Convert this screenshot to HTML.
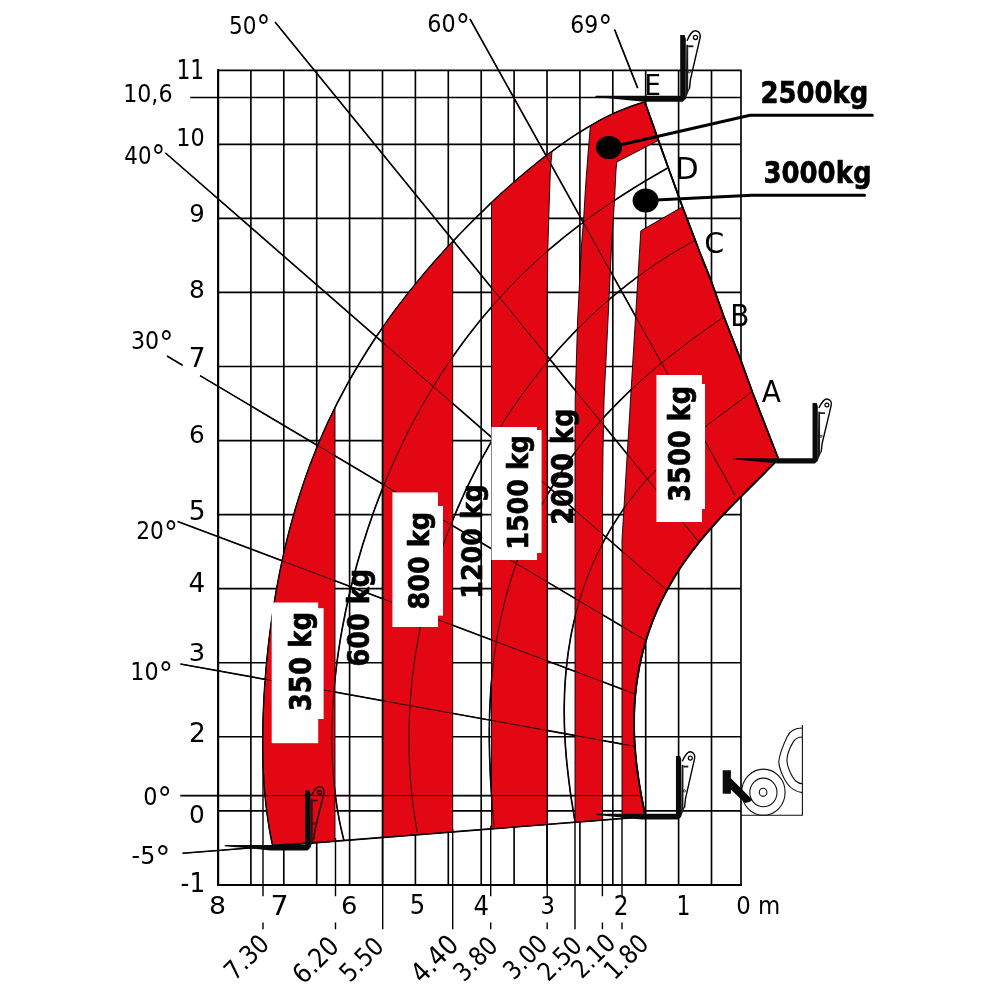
<!DOCTYPE html>
<html lang="en"><head><meta charset="utf-8"><title>Load chart</title>
<style>html,body{margin:0;padding:0;background:#fff}svg{display:block}</style></head>
<body>
<svg width="1000" height="1000" viewBox="0 0 1000 1000">
<rect width="1000" height="1000" fill="#fff"/>
<path d="M218.0,70.3 V884.8 M250.9,70.3 V884.8 M283.8,70.3 V884.8 M316.7,70.3 V884.8 M349.6,70.3 V884.8 M382.5,70.3 V884.8 M415.4,70.3 V884.8 M448.3,70.3 V884.8 M481.2,70.3 V884.8 M514.1,70.3 V884.8 M547.0,70.3 V884.8 M579.9,70.3 V884.8 M612.8,70.3 V884.8 M645.7,70.3 V884.8 M678.6,70.3 V884.8 M711.5,70.3 V884.8 M741.0,70.3 V884.8 M218.0,70.3 H741.0 M218.0,144.3 H741.0 M218.0,218.4 H741.0 M218.0,292.4 H741.0 M218.0,366.5 H741.0 M218.0,440.6 H741.0 M218.0,514.6 H741.0 M218.0,588.6 H741.0 M218.0,662.7 H741.0 M218.0,736.7 H741.0 M218.0,810.8 H741.0 M218.0,884.8 H741.0 M191,97.5 H741" stroke="#000" stroke-width="1.65" fill="none" stroke-linecap="square"/>
<path d="M218.2,70.3 V884.9 H741" stroke="#000" stroke-width="2" fill="none" stroke-linecap="square" stroke-linejoin="miter"/>
<path d="M263.0,725.0 V896.3 M263.0,922.5 V929.3 M335.5,838.0 V896.3 M335.5,922.5 V929.3 M382.7,834.3 V929.3 M452.7,828.8 V929.3 M490.7,825.8 V896.3 M490.7,922.5 V929.3 M547.2,821.4 V896.3 M547.2,922.5 V929.3 M575.0,819.2 V929.3 M602.4,817.0 V896.3 M602.4,922.5 V929.3 M622.0,815.5 V896.3 M622.0,922.5 V929.3" stroke="#000" stroke-width="1.4" fill="none"/>
<path d="M644.8,102.1 L638.0,104.1 L631.2,106.4 L624.6,108.9 L618.0,111.6 L611.5,114.6 L605.0,117.7 L598.7,121.1 L592.4,124.6 L586.2,128.2 L580.0,132.0 L573.9,135.9 L567.9,139.9 L562.0,144.1 L556.1,148.3 L550.3,152.6 L544.5,157.0 L538.8,161.5 L533.1,166.1 L527.5,170.7 L521.9,175.4 L516.3,180.2 L510.9,185.0 L505.4,189.8 L500.0,194.7 L494.7,199.7 L489.3,204.7 L484.1,209.8 L478.8,214.9 L473.6,220.0 L468.5,225.2 L463.3,230.5 L458.2,235.7 L453.2,241.1 L448.2,246.4 L443.2,251.9 L438.3,257.3 L433.4,262.9 L428.6,268.4 L423.8,274.0 L419.1,279.7 L414.4,285.4 L409.7,291.2 L405.2,297.0 L400.6,302.9 L396.1,308.8 L391.7,314.8 L387.4,320.8 L383.0,326.9 L378.8,333.0 L374.6,339.2 L370.5,345.5 L366.5,351.8 L362.5,358.2 L358.6,364.6 L354.8,371.0 L351.0,377.6 L347.3,384.2 L343.7,390.8 L340.2,397.5 L336.7,404.2 L333.4,411.0 L330.1,417.8 L326.9,424.7 L323.8,431.6 L320.7,438.6 L317.8,445.6 L314.9,452.6 L312.1,459.7 L309.4,466.9 L306.8,474.0 L304.3,481.2 L301.9,488.5 L299.5,495.8 L297.2,503.1 L295.0,510.4 L292.9,517.7 L290.9,525.1 L288.9,532.5 L287.0,540.0 L285.2,547.4 L283.5,554.9 L281.9,562.4 L280.3,569.9 L278.8,577.4 L277.4,585.0 L276.0,592.5 L274.7,600.1 L273.5,607.7 L272.4,615.3 L271.3,622.9 L270.3,630.5 L269.3,638.1 L268.4,645.7 L267.6,653.4 L266.8,661.0 L266.1,668.7 L265.5,676.3 L264.9,684.0 L264.4,691.7 L264.0,699.4 L263.6,707.1 L263.3,714.8 L263.1,722.4 L262.9,730.1 L262.8,737.9 L262.8,745.6 L262.9,753.3 L263.1,761.0 L263.4,768.7 L263.7,776.4 L264.2,784.1 L264.8,791.8 L265.5,799.4 L266.3,807.1 L267.3,814.7 L268.4,822.3 L269.6,829.9 L271.0,837.5 L272.6,845.0 M667.2,168.2 L661.6,171.5 L656.0,174.7 L650.4,178.0 L644.8,181.3 L639.3,184.6 L633.8,188.0 L628.3,191.5 L622.8,195.0 L617.4,198.5 L612.0,202.1 L606.6,205.7 L601.2,209.4 L595.9,213.1 L590.6,216.9 L585.4,220.7 L580.1,224.6 L575.0,228.6 L569.8,232.6 L564.7,236.7 L559.6,240.8 L554.6,245.0 L549.6,249.2 L544.7,253.5 L539.8,257.9 L535.0,262.3 L530.2,266.8 L525.4,271.3 L520.7,275.9 L516.0,280.6 L511.4,285.3 L506.9,290.0 L502.4,294.9 L497.9,299.8 L493.5,304.7 L489.2,309.7 L484.9,314.7 L480.7,319.8 L476.5,325.0 L472.4,330.2 L468.3,335.5 L464.3,340.8 L460.4,346.1 L456.5,351.5 L452.6,357.0 L448.9,362.5 L445.2,368.0 L441.5,373.6 L437.9,379.2 L434.4,384.9 L430.9,390.6 L427.5,396.3 L424.1,402.1 L420.8,408.0 L417.6,413.8 L414.4,419.7 L411.2,425.7 L408.2,431.6 L405.2,437.7 L402.2,443.7 L399.3,449.8 L396.5,455.9 L393.7,462.0 L391.0,468.2 L388.4,474.3 L385.8,480.6 L383.2,486.8 L380.7,493.1 L378.3,499.4 L375.9,505.7 L373.6,512.0 L371.4,518.4 L369.2,524.8 L367.0,531.2 L365.0,537.7 L362.9,544.1 L361.0,550.6 L359.1,557.1 L357.2,563.6 L355.4,570.2 L353.7,576.7 L352.0,583.3 L350.4,589.9 L348.9,596.5 L347.4,603.1 L345.9,609.8 L344.6,616.5 L343.3,623.1 L342.0,629.8 L340.8,636.5 L339.7,643.3 L338.7,650.0 L337.7,656.8 L336.8,663.5 L336.0,670.3 L335.2,677.1 L334.5,683.9 L333.9,690.7 L333.4,697.5 L332.9,704.3 L332.5,711.2 L332.2,718.0 L332.0,724.9 L331.9,731.7 L331.9,738.5 L331.9,745.4 L332.1,752.2 L332.3,759.1 L332.7,765.9 L333.1,772.7 L333.7,779.5 L334.3,786.4 L335.1,793.1 L336.0,799.9 L336.9,806.7 L338.1,813.4 L339.3,820.1 L340.7,826.8 L342.2,833.4 L343.8,840.0 M695.1,240.3 L690.2,243.0 L685.3,245.8 L680.4,248.6 L675.5,251.5 L670.7,254.4 L665.8,257.4 L661.1,260.5 L656.3,263.6 L651.6,266.8 L647.0,270.1 L642.3,273.4 L637.7,276.7 L633.2,280.2 L628.6,283.6 L624.2,287.2 L619.7,290.7 L615.3,294.4 L610.9,298.0 L606.6,301.8 L602.3,305.6 L598.0,309.4 L593.8,313.3 L589.6,317.2 L585.5,321.2 L581.4,325.2 L577.3,329.3 L573.3,333.4 L569.3,337.6 L565.4,341.8 L561.5,346.0 L557.6,350.3 L553.8,354.7 L550.0,359.0 L546.3,363.5 L542.6,367.9 L539.0,372.4 L535.4,377.0 L531.8,381.6 L528.3,386.2 L524.9,390.8 L521.4,395.5 L518.1,400.3 L514.7,405.0 L511.4,409.8 L508.2,414.7 L505.0,419.5 L501.9,424.5 L498.8,429.4 L495.7,434.4 L492.7,439.4 L489.8,444.4 L486.9,449.5 L484.0,454.6 L481.2,459.7 L478.4,464.9 L475.7,470.1 L473.0,475.3 L470.4,480.6 L467.9,485.8 L465.3,491.1 L462.9,496.5 L460.5,501.8 L458.1,507.2 L455.8,512.6 L453.5,518.1 L451.3,523.5 L449.1,529.0 L447.0,534.5 L445.0,540.1 L443.0,545.6 L441.0,551.2 L439.1,556.8 L437.3,562.4 L435.5,568.1 L433.8,573.7 L432.1,579.4 L430.5,585.1 L428.9,590.8 L427.4,596.6 L425.9,602.3 L424.6,608.1 L423.2,613.9 L421.9,619.7 L420.7,625.5 L419.5,631.3 L418.4,637.1 L417.4,643.0 L416.4,648.9 L415.5,654.7 L414.6,660.6 L413.8,666.5 L413.0,672.5 L412.3,678.4 L411.7,684.3 L411.2,690.2 L410.7,696.2 L410.2,702.1 L409.9,708.1 L409.5,714.0 L409.3,720.0 L409.1,725.9 L409.0,731.9 L408.9,737.9 L409.0,743.8 L409.0,749.8 L409.2,755.8 L409.4,761.7 L409.7,767.7 L410.0,773.6 L410.4,779.6 L410.9,785.5 L411.5,791.4 L412.1,797.3 L412.8,803.3 L413.6,809.2 L414.4,815.0 L415.3,820.9 L416.3,826.8 L417.3,832.6 M723.7,316.9 L719.8,319.6 L715.8,322.4 L711.9,325.2 L708.0,328.0 L704.1,330.7 L700.3,333.5 L696.4,336.4 L692.6,339.2 L688.7,342.0 L684.9,344.9 L681.1,347.8 L677.3,350.7 L673.6,353.6 L669.8,356.5 L666.1,359.5 L662.4,362.5 L658.7,365.5 L655.0,368.6 L651.4,371.7 L647.8,374.8 L644.1,377.9 L640.6,381.1 L637.0,384.3 L633.5,387.6 L629.9,390.9 L626.5,394.2 L623.0,397.6 L619.6,400.9 L616.2,404.4 L612.8,407.9 L609.4,411.4 L606.1,414.9 L602.8,418.5 L599.6,422.1 L596.4,425.8 L593.2,429.5 L590.0,433.3 L586.9,437.1 L583.8,440.9 L580.8,444.8 L577.8,448.7 L574.9,452.6 L571.9,456.6 L569.1,460.6 L566.2,464.7 L563.5,468.8 L560.7,473.0 L558.0,477.2 L555.4,481.4 L552.8,485.7 L550.2,490.0 L547.7,494.3 L545.2,498.7 L542.8,503.1 L540.5,507.5 L538.2,512.0 L535.9,516.5 L533.7,521.1 L531.6,525.7 L529.5,530.3 L527.4,534.9 L525.4,539.6 L523.5,544.3 L521.6,549.0 L519.8,553.8 L518.0,558.5 L516.3,563.3 L514.6,568.2 L513.0,573.0 L511.4,577.9 L509.9,582.8 L508.5,587.7 L507.1,592.6 L505.8,597.6 L504.5,602.5 L503.3,607.5 L502.1,612.5 L501.0,617.5 L499.9,622.6 L498.9,627.6 L498.0,632.7 L497.1,637.7 L496.2,642.8 L495.5,647.9 L494.7,653.0 L494.0,658.1 L493.4,663.2 L492.8,668.3 L492.3,673.4 L491.8,678.5 L491.3,683.6 L490.9,688.8 L490.6,693.9 L490.3,699.0 L490.0,704.2 L489.8,709.3 L489.6,714.4 L489.5,719.6 L489.4,724.7 L489.3,729.9 L489.3,735.0 L489.3,740.1 L489.4,745.3 L489.5,750.4 L489.6,755.5 L489.8,760.7 L490.0,765.8 L490.2,770.9 L490.4,776.1 L490.7,781.2 L491.0,786.3 L491.3,791.5 L491.7,796.6 L492.1,801.8 L492.5,806.9 L492.9,812.1 L493.3,817.2 L493.8,822.4 L494.2,827.6 M752.2,391.7 L749.0,394.1 L745.8,396.5 L742.6,398.9 L739.4,401.2 L736.2,403.6 L733.0,405.9 L729.8,408.3 L726.7,410.6 L723.5,412.9 L720.4,415.2 L717.3,417.6 L714.2,419.9 L711.1,422.3 L708.0,424.6 L704.9,427.0 L701.8,429.4 L698.7,431.8 L695.7,434.2 L692.7,436.7 L689.6,439.1 L686.6,441.6 L683.6,444.2 L680.7,446.7 L677.7,449.3 L674.8,451.9 L671.8,454.6 L668.9,457.2 L666.1,460.0 L663.2,462.7 L660.4,465.5 L657.6,468.3 L654.8,471.2 L652.0,474.1 L649.3,477.1 L646.6,480.0 L643.9,483.1 L641.3,486.1 L638.7,489.2 L636.1,492.4 L633.6,495.6 L631.1,498.8 L628.6,502.1 L626.1,505.4 L623.8,508.7 L621.4,512.1 L619.1,515.6 L616.8,519.1 L614.6,522.6 L612.4,526.1 L610.2,529.7 L608.1,533.4 L606.0,537.0 L604.0,540.7 L602.1,544.5 L600.1,548.2 L598.3,552.0 L596.4,555.9 L594.7,559.8 L592.9,563.7 L591.3,567.6 L589.6,571.6 L588.0,575.6 L586.5,579.6 L585.0,583.7 L583.6,587.7 L582.2,591.8 L580.9,596.0 L579.6,600.1 L578.4,604.3 L577.3,608.5 L576.1,612.7 L575.1,616.9 L574.1,621.1 L573.1,625.4 L572.2,629.7 L571.3,633.9 L570.5,638.2 L569.8,642.6 L569.1,646.9 L568.4,651.2 L567.8,655.5 L567.3,659.9 L566.8,664.2 L566.3,668.6 L565.9,673.0 L565.5,677.3 L565.2,681.7 L564.9,686.1 L564.7,690.5 L564.5,694.8 L564.4,699.2 L564.3,703.6 L564.2,708.0 L564.2,712.3 L564.3,716.7 L564.3,721.1 L564.4,725.5 L564.6,729.8 L564.8,734.2 L565.0,738.6 L565.2,742.9 L565.5,747.3 L565.9,751.6 L566.2,756.0 L566.6,760.3 L567.0,764.7 L567.5,769.0 L568.0,773.4 L568.5,777.7 L569.0,782.0 L569.6,786.4 L570.1,790.7 L570.8,795.0 L571.4,799.4 L572.1,803.7 L572.8,808.0 L573.5,812.4 L574.2,816.7 L574.9,821.0 M778.4,458.8 L774.8,462.5 L771.1,466.3 L767.5,469.9 L764.0,473.6 L760.4,477.2 L756.8,480.7 L753.3,484.3 L749.7,487.8 L746.2,491.3 L742.7,494.8 L739.2,498.3 L735.7,501.8 L732.3,505.4 L728.8,508.9 L725.4,512.5 L722.0,516.1 L718.7,519.7 L715.3,523.4 L712.0,527.1 L708.7,530.8 L705.5,534.6 L702.3,538.4 L699.1,542.2 L696.0,546.2 L693.0,550.1 L689.9,554.1 L687.0,558.2 L684.1,562.3 L681.2,566.5 L678.4,570.8 L675.7,575.0 L673.1,579.4 L670.5,583.8 L668.0,588.3 L665.6,592.8 L663.2,597.3 L660.9,601.9 L658.7,606.6 L656.6,611.3 L654.6,616.1 L652.7,620.9 L650.9,625.8 L649.1,630.7 L647.5,635.6 L645.9,640.6 L644.4,645.6 L643.1,650.6 L641.8,655.7 L640.6,660.8 L639.5,665.9 L638.6,671.1 L637.7,676.3 L636.9,681.4 L636.2,686.6 L635.6,691.9 L635.1,697.1 L634.7,702.3 L634.4,707.6 L634.2,712.8 L634.1,718.0 L634.1,723.3 L634.1,728.5 L634.2,733.8 L634.4,739.0 L634.7,744.2 L635.1,749.4 L635.5,754.6 L636.0,759.8 L636.6,765.0 L637.3,770.2 L638.0,775.3 L638.7,780.5 L639.5,785.6 L640.4,790.7 L641.3,795.8 L642.3,800.9 L643.3,806.0 L644.3,811.1 L645.3,816.2 M182.5,853.3 L646.0,816.6 M180.4,795.6 L639.4,795.6 M180.4,664.0 L635.0,746.4 M177.6,521.4 L635.0,694.0 M167.0,356.0 L182.5,365.2 M200.0,375.6 L645.0,640.0 M165.5,153.0 L666.0,589.5 M275.0,22.0 L698.0,541.0 M470.0,19.0 L735.0,495.0 M614.6,29.6 L637.7,88.1 M644.8,102.0 L658.4,140.4 L667.2,164.8 L682.4,206.8 L695.2,240.4 L699.2,251.0 L710.6,279.6 L723.9,316.8 L740.0,358.0 L752.5,392.5 L778.0,458.0" stroke="#000" stroke-width="1.65" fill="none"/>
<path d="M335.0,407.6 L331.1,415.7 L327.2,423.9 L323.5,432.2 L319.9,440.5 L316.4,448.9 L313.1,457.4 L309.8,465.9 L306.7,474.4 L303.7,483.0 L300.8,491.7 L298.0,500.4 L295.4,509.1 L292.9,517.9 L290.4,526.7 L288.1,535.6 L285.9,544.5 L283.9,553.4 L281.9,562.3 L280.0,571.3 L278.3,580.3 L276.6,589.3 L275.0,598.3 L273.6,607.4 L272.2,616.4 L270.9,625.5 L269.7,634.6 L268.7,643.7 L267.7,652.8 L266.7,662.0 L265.9,671.1 L265.2,680.3 L264.6,689.4 L264.0,698.6 L263.6,707.8 L263.2,717.0 L263.0,726.2 L262.9,735.3 L262.8,744.5 L262.9,753.7 L263.1,762.9 L263.5,772.1 L264.0,781.3 L264.7,790.5 L265.5,799.7 L266.5,808.8 L267.7,817.9 L269.1,827.0 L270.8,836.0 L272.6,845.0 L335.0,841.0Z" fill="#e30613" stroke="#000" stroke-width="0.9" stroke-linejoin="round"/>
<path d="M383.0,837.3 L383.0,326.9 L386.4,322.2 L389.8,317.4 L393.2,312.7 L396.7,308.0 L400.2,303.4 L403.8,298.7 L407.4,294.2 L411.0,289.6 L414.7,285.1 L418.3,280.6 L422.1,276.1 L425.8,271.7 L429.6,267.3 L433.4,262.9 L437.2,258.6 L441.0,254.3 L444.9,250.0 L448.8,245.8 L452.7,241.6 L452.7,831.8Z" fill="#e30613" stroke="#000" stroke-width="0.9" stroke-linejoin="round"/>
<path d="M491.5,828.7 L491.5,202.6 L494.6,199.8 L497.7,196.9 L500.7,194.1 L503.8,191.3 L506.9,188.5 L510.1,185.7 L513.2,182.9 L516.3,180.2 L519.5,177.4 L522.7,174.7 L525.9,172.0 L529.1,169.4 L532.3,166.7 L535.5,164.1 L538.8,161.5 L542.1,158.9 L545.4,156.3 L548.7,153.8 L552.0,151.3 L550.4,170.0 L549.0,210.0 L547.8,250.0 L547.2,300.0 L547.2,824.4Z" fill="#e30613" stroke="#000" stroke-width="0.9" stroke-linejoin="round"/>
<path d="M575.0,822.2 L575.0,440.0 L575.2,400.0 L577.6,320.0 L581.5,245.0 L583.7,218.0 L585.6,186.0 L588.0,154.0 L590.4,126.0 L603.0,118.5 L616.0,112.4 L630.0,107.0 L644.8,102.0 L658.4,140.4 L616.8,162.0 L616.0,170.0 L614.4,202.0 L611.6,245.0 L608.0,320.0 L604.0,400.0 L603.0,450.0 L602.5,500.0 L602.5,820.0Z" fill="#e30613" stroke="#000" stroke-width="0.9" stroke-linejoin="round"/>
<path d="M622.0,818.5 L622.0,540.0 L640.8,230.8 L682.4,206.8 L695.2,240.4 L699.2,251.0 L710.6,279.6 L723.9,316.8 L740.0,358.0 L752.5,392.5 L778.0,458.0 L773.5,463.8 L768.7,468.8 L763.9,473.6 L759.1,478.4 L754.4,483.2 L749.6,487.9 L744.9,492.6 L740.2,497.3 L735.6,502.0 L730.9,506.8 L726.4,511.5 L721.8,516.3 L717.3,521.2 L712.9,526.1 L708.5,531.1 L704.1,536.2 L699.9,541.3 L695.7,546.6 L691.6,551.9 L687.6,557.3 L683.7,562.8 L679.9,568.4 L676.3,574.2 L672.7,580.0 L669.3,585.9 L666.0,591.9 L662.9,598.0 L659.8,604.2 L657.0,610.5 L654.3,616.9 L651.7,623.4 L649.4,629.9 L647.2,636.5 L645.1,643.2 L643.2,649.9 L641.5,656.7 L640.0,663.6 L638.7,670.5 L637.5,677.4 L636.5,684.4 L635.7,691.3 L635.0,698.3 L634.6,705.3 L634.2,712.4 L634.1,719.4 L634.1,726.4 L634.2,733.4 L634.5,740.4 L634.9,747.4 L635.5,754.4 L636.2,761.3 L637.0,768.2 L637.9,775.1 L639.0,782.0 L640.1,788.9 L641.3,795.7 L642.6,802.6 L643.9,809.4 L645.3,816.2 L646.0,816.6Z" fill="#e30613" stroke="#000" stroke-width="0.9" stroke-linejoin="round"/>
<path d="M644.8,102.1 L638.0,104.1 L631.2,106.4 L624.6,108.9 L618.0,111.6 L611.5,114.6 L605.0,117.7 L598.7,121.1 L592.4,124.6 L586.2,128.2 L580.0,132.0 L573.9,135.9 L567.9,139.9 L562.0,144.1 L556.1,148.3 L550.3,152.6 L544.5,157.0 L538.8,161.5 L533.1,166.1 L527.5,170.7 L521.9,175.4 L516.3,180.2 L510.9,185.0 L505.4,189.8 L500.0,194.7 L494.7,199.7 L489.3,204.7 L484.1,209.8 L478.8,214.9 L473.6,220.0 L468.5,225.2 L463.3,230.5 L458.2,235.7 L453.2,241.1 L448.2,246.4 L443.2,251.9 L438.3,257.3 L433.4,262.9 L428.6,268.4 L423.8,274.0 L419.1,279.7 L414.4,285.4 L409.7,291.2 L405.2,297.0 L400.6,302.9 L396.1,308.8 L391.7,314.8 L387.4,320.8 L383.0,326.9 L378.8,333.0 L374.6,339.2 L370.5,345.5 L366.5,351.8 L362.5,358.2 L358.6,364.6 L354.8,371.0 L351.0,377.6 L347.3,384.2 L343.7,390.8 L340.2,397.5 L336.7,404.2 L333.4,411.0 L330.1,417.8 L326.9,424.7 L323.8,431.6 L320.7,438.6 L317.8,445.6 L314.9,452.6 L312.1,459.7 L309.4,466.9 L306.8,474.0 L304.3,481.2 L301.9,488.5 L299.5,495.8 L297.2,503.1 L295.0,510.4 L292.9,517.7 L290.9,525.1 L288.9,532.5 L287.0,540.0 L285.2,547.4 L283.5,554.9 L281.9,562.4 L280.3,569.9 L278.8,577.4 L277.4,585.0 L276.0,592.5 L274.7,600.1 L273.5,607.7 L272.4,615.3 L271.3,622.9 L270.3,630.5 L269.3,638.1 L268.4,645.7 L267.6,653.4 L266.8,661.0 L266.1,668.7 L265.5,676.3 L264.9,684.0 L264.4,691.7 L264.0,699.4 L263.6,707.1 L263.3,714.8 L263.1,722.4 L262.9,730.1 L262.8,737.9 L262.8,745.6 L262.9,753.3 L263.1,761.0 L263.4,768.7 L263.7,776.4 L264.2,784.1 L264.8,791.8 L265.5,799.4 L266.3,807.1 L267.3,814.7 L268.4,822.3 L269.6,829.9 L271.0,837.5 L272.6,845.0 M667.2,168.2 L661.6,171.5 L656.0,174.7 L650.4,178.0 L644.8,181.3 L639.3,184.6 L633.8,188.0 L628.3,191.5 L622.8,195.0 L617.4,198.5 L612.0,202.1 L606.6,205.7 L601.2,209.4 L595.9,213.1 L590.6,216.9 L585.4,220.7 L580.1,224.6 L575.0,228.6 L569.8,232.6 L564.7,236.7 L559.6,240.8 L554.6,245.0 L549.6,249.2 L544.7,253.5 L539.8,257.9 L535.0,262.3 L530.2,266.8 L525.4,271.3 L520.7,275.9 L516.0,280.6 L511.4,285.3 L506.9,290.0 L502.4,294.9 L497.9,299.8 L493.5,304.7 L489.2,309.7 L484.9,314.7 L480.7,319.8 L476.5,325.0 L472.4,330.2 L468.3,335.5 L464.3,340.8 L460.4,346.1 L456.5,351.5 L452.6,357.0 L448.9,362.5 L445.2,368.0 L441.5,373.6 L437.9,379.2 L434.4,384.9 L430.9,390.6 L427.5,396.3 L424.1,402.1 L420.8,408.0 L417.6,413.8 L414.4,419.7 L411.2,425.7 L408.2,431.6 L405.2,437.7 L402.2,443.7 L399.3,449.8 L396.5,455.9 L393.7,462.0 L391.0,468.2 L388.4,474.3 L385.8,480.6 L383.2,486.8 L380.7,493.1 L378.3,499.4 L375.9,505.7 L373.6,512.0 L371.4,518.4 L369.2,524.8 L367.0,531.2 L365.0,537.7 L362.9,544.1 L361.0,550.6 L359.1,557.1 L357.2,563.6 L355.4,570.2 L353.7,576.7 L352.0,583.3 L350.4,589.9 L348.9,596.5 L347.4,603.1 L345.9,609.8 L344.6,616.5 L343.3,623.1 L342.0,629.8 L340.8,636.5 L339.7,643.3 L338.7,650.0 L337.7,656.8 L336.8,663.5 L336.0,670.3 L335.2,677.1 L334.5,683.9 L333.9,690.7 L333.4,697.5 L332.9,704.3 L332.5,711.2 L332.2,718.0 L332.0,724.9 L331.9,731.7 L331.9,738.5 L331.9,745.4 L332.1,752.2 L332.3,759.1 L332.7,765.9 L333.1,772.7 L333.7,779.5 L334.3,786.4 L335.1,793.1 L336.0,799.9 L336.9,806.7 L338.1,813.4 L339.3,820.1 L340.7,826.8 L342.2,833.4 L343.8,840.0 M695.1,240.3 L690.2,243.0 L685.3,245.8 L680.4,248.6 L675.5,251.5 L670.7,254.4 L665.8,257.4 L661.1,260.5 L656.3,263.6 L651.6,266.8 L647.0,270.1 L642.3,273.4 L637.7,276.7 L633.2,280.2 L628.6,283.6 L624.2,287.2 L619.7,290.7 L615.3,294.4 L610.9,298.0 L606.6,301.8 L602.3,305.6 L598.0,309.4 L593.8,313.3 L589.6,317.2 L585.5,321.2 L581.4,325.2 L577.3,329.3 L573.3,333.4 L569.3,337.6 L565.4,341.8 L561.5,346.0 L557.6,350.3 L553.8,354.7 L550.0,359.0 L546.3,363.5 L542.6,367.9 L539.0,372.4 L535.4,377.0 L531.8,381.6 L528.3,386.2 L524.9,390.8 L521.4,395.5 L518.1,400.3 L514.7,405.0 L511.4,409.8 L508.2,414.7 L505.0,419.5 L501.9,424.5 L498.8,429.4 L495.7,434.4 L492.7,439.4 L489.8,444.4 L486.9,449.5 L484.0,454.6 L481.2,459.7 L478.4,464.9 L475.7,470.1 L473.0,475.3 L470.4,480.6 L467.9,485.8 L465.3,491.1 L462.9,496.5 L460.5,501.8 L458.1,507.2 L455.8,512.6 L453.5,518.1 L451.3,523.5 L449.1,529.0 L447.0,534.5 L445.0,540.1 L443.0,545.6 L441.0,551.2 L439.1,556.8 L437.3,562.4 L435.5,568.1 L433.8,573.7 L432.1,579.4 L430.5,585.1 L428.9,590.8 L427.4,596.6 L425.9,602.3 L424.6,608.1 L423.2,613.9 L421.9,619.7 L420.7,625.5 L419.5,631.3 L418.4,637.1 L417.4,643.0 L416.4,648.9 L415.5,654.7 L414.6,660.6 L413.8,666.5 L413.0,672.5 L412.3,678.4 L411.7,684.3 L411.2,690.2 L410.7,696.2 L410.2,702.1 L409.9,708.1 L409.5,714.0 L409.3,720.0 L409.1,725.9 L409.0,731.9 L408.9,737.9 L409.0,743.8 L409.0,749.8 L409.2,755.8 L409.4,761.7 L409.7,767.7 L410.0,773.6 L410.4,779.6 L410.9,785.5 L411.5,791.4 L412.1,797.3 L412.8,803.3 L413.6,809.2 L414.4,815.0 L415.3,820.9 L416.3,826.8 L417.3,832.6 M723.7,316.9 L719.8,319.6 L715.8,322.4 L711.9,325.2 L708.0,328.0 L704.1,330.7 L700.3,333.5 L696.4,336.4 L692.6,339.2 L688.7,342.0 L684.9,344.9 L681.1,347.8 L677.3,350.7 L673.6,353.6 L669.8,356.5 L666.1,359.5 L662.4,362.5 L658.7,365.5 L655.0,368.6 L651.4,371.7 L647.8,374.8 L644.1,377.9 L640.6,381.1 L637.0,384.3 L633.5,387.6 L629.9,390.9 L626.5,394.2 L623.0,397.6 L619.6,400.9 L616.2,404.4 L612.8,407.9 L609.4,411.4 L606.1,414.9 L602.8,418.5 L599.6,422.1 L596.4,425.8 L593.2,429.5 L590.0,433.3 L586.9,437.1 L583.8,440.9 L580.8,444.8 L577.8,448.7 L574.9,452.6 L571.9,456.6 L569.1,460.6 L566.2,464.7 L563.5,468.8 L560.7,473.0 L558.0,477.2 L555.4,481.4 L552.8,485.7 L550.2,490.0 L547.7,494.3 L545.2,498.7 L542.8,503.1 L540.5,507.5 L538.2,512.0 L535.9,516.5 L533.7,521.1 L531.6,525.7 L529.5,530.3 L527.4,534.9 L525.4,539.6 L523.5,544.3 L521.6,549.0 L519.8,553.8 L518.0,558.5 L516.3,563.3 L514.6,568.2 L513.0,573.0 L511.4,577.9 L509.9,582.8 L508.5,587.7 L507.1,592.6 L505.8,597.6 L504.5,602.5 L503.3,607.5 L502.1,612.5 L501.0,617.5 L499.9,622.6 L498.9,627.6 L498.0,632.7 L497.1,637.7 L496.2,642.8 L495.5,647.9 L494.7,653.0 L494.0,658.1 L493.4,663.2 L492.8,668.3 L492.3,673.4 L491.8,678.5 L491.3,683.6 L490.9,688.8 L490.6,693.9 L490.3,699.0 L490.0,704.2 L489.8,709.3 L489.6,714.4 L489.5,719.6 L489.4,724.7 L489.3,729.9 L489.3,735.0 L489.3,740.1 L489.4,745.3 L489.5,750.4 L489.6,755.5 L489.8,760.7 L490.0,765.8 L490.2,770.9 L490.4,776.1 L490.7,781.2 L491.0,786.3 L491.3,791.5 L491.7,796.6 L492.1,801.8 L492.5,806.9 L492.9,812.1 L493.3,817.2 L493.8,822.4 L494.2,827.6 M752.2,391.7 L749.0,394.1 L745.8,396.5 L742.6,398.9 L739.4,401.2 L736.2,403.6 L733.0,405.9 L729.8,408.3 L726.7,410.6 L723.5,412.9 L720.4,415.2 L717.3,417.6 L714.2,419.9 L711.1,422.3 L708.0,424.6 L704.9,427.0 L701.8,429.4 L698.7,431.8 L695.7,434.2 L692.7,436.7 L689.6,439.1 L686.6,441.6 L683.6,444.2 L680.7,446.7 L677.7,449.3 L674.8,451.9 L671.8,454.6 L668.9,457.2 L666.1,460.0 L663.2,462.7 L660.4,465.5 L657.6,468.3 L654.8,471.2 L652.0,474.1 L649.3,477.1 L646.6,480.0 L643.9,483.1 L641.3,486.1 L638.7,489.2 L636.1,492.4 L633.6,495.6 L631.1,498.8 L628.6,502.1 L626.1,505.4 L623.8,508.7 L621.4,512.1 L619.1,515.6 L616.8,519.1 L614.6,522.6 L612.4,526.1 L610.2,529.7 L608.1,533.4 L606.0,537.0 L604.0,540.7 L602.1,544.5 L600.1,548.2 L598.3,552.0 L596.4,555.9 L594.7,559.8 L592.9,563.7 L591.3,567.6 L589.6,571.6 L588.0,575.6 L586.5,579.6 L585.0,583.7 L583.6,587.7 L582.2,591.8 L580.9,596.0 L579.6,600.1 L578.4,604.3 L577.3,608.5 L576.1,612.7 L575.1,616.9 L574.1,621.1 L573.1,625.4 L572.2,629.7 L571.3,633.9 L570.5,638.2 L569.8,642.6 L569.1,646.9 L568.4,651.2 L567.8,655.5 L567.3,659.9 L566.8,664.2 L566.3,668.6 L565.9,673.0 L565.5,677.3 L565.2,681.7 L564.9,686.1 L564.7,690.5 L564.5,694.8 L564.4,699.2 L564.3,703.6 L564.2,708.0 L564.2,712.3 L564.3,716.7 L564.3,721.1 L564.4,725.5 L564.6,729.8 L564.8,734.2 L565.0,738.6 L565.2,742.9 L565.5,747.3 L565.9,751.6 L566.2,756.0 L566.6,760.3 L567.0,764.7 L567.5,769.0 L568.0,773.4 L568.5,777.7 L569.0,782.0 L569.6,786.4 L570.1,790.7 L570.8,795.0 L571.4,799.4 L572.1,803.7 L572.8,808.0 L573.5,812.4 L574.2,816.7 L574.9,821.0 M778.4,458.8 L774.8,462.5 L771.1,466.3 L767.5,469.9 L764.0,473.6 L760.4,477.2 L756.8,480.7 L753.3,484.3 L749.7,487.8 L746.2,491.3 L742.7,494.8 L739.2,498.3 L735.7,501.8 L732.3,505.4 L728.8,508.9 L725.4,512.5 L722.0,516.1 L718.7,519.7 L715.3,523.4 L712.0,527.1 L708.7,530.8 L705.5,534.6 L702.3,538.4 L699.1,542.2 L696.0,546.2 L693.0,550.1 L689.9,554.1 L687.0,558.2 L684.1,562.3 L681.2,566.5 L678.4,570.8 L675.7,575.0 L673.1,579.4 L670.5,583.8 L668.0,588.3 L665.6,592.8 L663.2,597.3 L660.9,601.9 L658.7,606.6 L656.6,611.3 L654.6,616.1 L652.7,620.9 L650.9,625.8 L649.1,630.7 L647.5,635.6 L645.9,640.6 L644.4,645.6 L643.1,650.6 L641.8,655.7 L640.6,660.8 L639.5,665.9 L638.6,671.1 L637.7,676.3 L636.9,681.4 L636.2,686.6 L635.6,691.9 L635.1,697.1 L634.7,702.3 L634.4,707.6 L634.2,712.8 L634.1,718.0 L634.1,723.3 L634.1,728.5 L634.2,733.8 L634.4,739.0 L634.7,744.2 L635.1,749.4 L635.5,754.6 L636.0,759.8 L636.6,765.0 L637.3,770.2 L638.0,775.3 L638.7,780.5 L639.5,785.6 L640.4,790.7 L641.3,795.8 L642.3,800.9 L643.3,806.0 L644.3,811.1 L645.3,816.2 M182.5,853.3 L646.0,816.6 M180.4,795.6 L639.4,795.6 M180.4,664.0 L635.0,746.4 M177.6,521.4 L635.0,694.0 M167.0,356.0 L182.5,365.2 M200.0,375.6 L645.0,640.0 M165.5,153.0 L666.0,589.5 M275.0,22.0 L698.0,541.0 M470.0,19.0 L735.0,495.0 M614.6,29.6 L637.7,88.1 M644.8,102.0 L658.4,140.4 L667.2,164.8 L682.4,206.8 L695.2,240.4 L699.2,251.0 L710.6,279.6 L723.9,316.8 L740.0,358.0 L752.5,392.5 L778.0,458.0" stroke="#140000" stroke-width="0.95" fill="none"/>
<path d="M644.8,102.0 L658.4,140.4 L667.2,164.8 L682.4,206.8 L695.2,240.4 L699.2,251.0 L710.6,279.6 L723.9,316.8 L740.0,358.0 L752.5,392.5 L778.0,458.0 M778.4,458.8 L774.8,462.5 L771.1,466.3 L767.5,469.9 L764.0,473.6 L760.4,477.2 L756.8,480.7 L753.3,484.3 L749.7,487.8 L746.2,491.3 L742.7,494.8 L739.2,498.3 L735.7,501.8 L732.3,505.4 L728.8,508.9 L725.4,512.5 L722.0,516.1 L718.7,519.7 L715.3,523.4 L712.0,527.1 L708.7,530.8 L705.5,534.6 L702.3,538.4 L699.1,542.2 L696.0,546.2 L693.0,550.1 L689.9,554.1 L687.0,558.2 L684.1,562.3 L681.2,566.5 L678.4,570.8 L675.7,575.0 L673.1,579.4 L670.5,583.8 L668.0,588.3 L665.6,592.8 L663.2,597.3 L660.9,601.9 L658.7,606.6 L656.6,611.3 L654.6,616.1 L652.7,620.9 L650.9,625.8 L649.1,630.7 L647.5,635.6 L645.9,640.6 L644.4,645.6 L643.1,650.6 L641.8,655.7 L640.6,660.8 L639.5,665.9 L638.6,671.1 L637.7,676.3 L636.9,681.4 L636.2,686.6 L635.6,691.9 L635.1,697.1 L634.7,702.3 L634.4,707.6 L634.2,712.8 L634.1,718.0 L634.1,723.3 L634.1,728.5 L634.2,733.8 L634.4,739.0 L634.7,744.2 L635.1,749.4 L635.5,754.6 L636.0,759.8 L636.6,765.0 L637.3,770.2 L638.0,775.3 L638.7,780.5 L639.5,785.6 L640.4,790.7 L641.3,795.8 L642.3,800.9 L643.3,806.0 L644.3,811.1 L645.3,816.2" stroke="#000" stroke-width="1.9" fill="none" stroke-linejoin="round"/>
<rect x="271.7" y="602.5" width="46.5" height="140.7" fill="#fff"/>
<rect x="316.7" y="608.2" width="6.9" height="110.8" fill="#fff"/>
<rect x="392.4" y="492.4" width="45.6" height="134.6" fill="#fff"/>
<rect x="436.5" y="506.0" width="6.5" height="109.6" fill="#fff"/>
<rect x="491.5" y="427.0" width="45.5" height="133.0" fill="#fff"/>
<rect x="535.5" y="430.0" width="6.1" height="123.0" fill="#fff"/>
<rect x="656.4" y="375.0" width="45.6" height="147.0" fill="#fff"/>
<rect x="700.5" y="384.0" width="4.5" height="125.0" fill="#fff"/>
<text transform="translate(176.39,79.35) scale(0.2187,0.2616)" font-family="'DejaVu Sans', 'Liberation Sans', sans-serif" font-weight="400" font-size="100" fill="#000" xml:space="preserve">11</text>
<text transform="translate(123.16,102.47) scale(0.2215,0.2529)" font-family="'DejaVu Sans', 'Liberation Sans', sans-serif" font-weight="400" font-size="100" fill="#000" xml:space="preserve">10,6</text>
<text transform="translate(176.34,145.90) scale(0.2239,0.2513)" font-family="'DejaVu Sans', 'Liberation Sans', sans-serif" font-weight="400" font-size="100" fill="#000" xml:space="preserve">10</text>
<text transform="translate(189.34,222.40) scale(0.2431,0.2513)" font-family="'DejaVu Sans', 'Liberation Sans', sans-serif" font-weight="400" font-size="100" fill="#000" xml:space="preserve">9</text>
<text transform="translate(189.06,297.90) scale(0.2480,0.2513)" font-family="'DejaVu Sans', 'Liberation Sans', sans-serif" font-weight="400" font-size="100" fill="#000" xml:space="preserve">8</text>
<text transform="translate(188.69,366.92) scale(0.2638,0.2653)" font-family="'DejaVu Sans', 'Liberation Sans', sans-serif" font-weight="400" font-size="100" fill="#000" xml:space="preserve">7</text>
<text transform="translate(189.06,443.40) scale(0.2480,0.2547)" font-family="'DejaVu Sans', 'Liberation Sans', sans-serif" font-weight="400" font-size="100" fill="#000" xml:space="preserve">6</text>
<text transform="translate(188.69,520.39) scale(0.2638,0.2581)" font-family="'DejaVu Sans', 'Liberation Sans', sans-serif" font-weight="400" font-size="100" fill="#000" xml:space="preserve">5</text>
<text transform="translate(188.49,591.65) scale(0.2623,0.2653)" font-family="'DejaVu Sans', 'Liberation Sans', sans-serif" font-weight="400" font-size="100" fill="#000" xml:space="preserve">4</text>
<text transform="translate(188.73,661.40) scale(0.2583,0.2547)" font-family="'DejaVu Sans', 'Liberation Sans', sans-serif" font-weight="400" font-size="100" fill="#000" xml:space="preserve">3</text>
<text transform="translate(188.95,741.65) scale(0.2638,0.2581)" font-family="'DejaVu Sans', 'Liberation Sans', sans-serif" font-weight="400" font-size="100" fill="#000" xml:space="preserve">2</text>
<text transform="translate(189.06,823.40) scale(0.2480,0.2513)" font-family="'DejaVu Sans', 'Liberation Sans', sans-serif" font-weight="400" font-size="100" fill="#000" xml:space="preserve">0</text>
<text transform="translate(180.57,891.65) scale(0.2459,0.2616)" font-family="'DejaVu Sans', 'Liberation Sans', sans-serif" font-weight="400" font-size="100" fill="#000" xml:space="preserve">-1</text>
<text transform="translate(229.07,33.51) scale(0.2164,0.2449)" font-family="'DejaVu Sans', 'Liberation Sans', sans-serif" font-weight="400" font-size="100" fill="#000" xml:space="preserve">50<tspan font-size="128" dy="19">°</tspan></text>
<text transform="translate(427.24,32.41) scale(0.2233,0.2449)" font-family="'DejaVu Sans', 'Liberation Sans', sans-serif" font-weight="400" font-size="100" fill="#000" xml:space="preserve">60<tspan font-size="128" dy="19">°</tspan></text>
<text transform="translate(570.26,33.16) scale(0.2203,0.2449)" font-family="'DejaVu Sans', 'Liberation Sans', sans-serif" font-weight="400" font-size="100" fill="#000" xml:space="preserve">69<tspan font-size="128" dy="19">°</tspan></text>
<text transform="translate(124.33,163.61) scale(0.2138,0.2449)" font-family="'DejaVu Sans', 'Liberation Sans', sans-serif" font-weight="400" font-size="100" fill="#000" xml:space="preserve">40<tspan font-size="128" dy="19">°</tspan></text>
<text transform="translate(131.03,349.16) scale(0.2216,0.2449)" font-family="'DejaVu Sans', 'Liberation Sans', sans-serif" font-weight="400" font-size="100" fill="#000" xml:space="preserve">30<tspan font-size="128" dy="19">°</tspan></text>
<text transform="translate(136.28,539.41) scale(0.2174,0.2449)" font-family="'DejaVu Sans', 'Liberation Sans', sans-serif" font-weight="400" font-size="100" fill="#000" xml:space="preserve">20<tspan font-size="128" dy="19">°</tspan></text>
<text transform="translate(130.35,680.41) scale(0.2226,0.2449)" font-family="'DejaVu Sans', 'Liberation Sans', sans-serif" font-weight="400" font-size="100" fill="#000" xml:space="preserve">10<tspan font-size="128" dy="19">°</tspan></text>
<text transform="translate(143.23,805.41) scale(0.2239,0.2449)" font-family="'DejaVu Sans', 'Liberation Sans', sans-serif" font-weight="400" font-size="100" fill="#000" xml:space="preserve">0<tspan font-size="128" dy="19">°</tspan></text>
<text transform="translate(131.61,864.16) scale(0.2374,0.2449)" font-family="'DejaVu Sans', 'Liberation Sans', sans-serif" font-weight="400" font-size="100" fill="#000" xml:space="preserve">-5<tspan font-size="128" dy="19">°</tspan></text>
<text transform="translate(208.92,914.40) scale(0.2680,0.2513)" font-family="'DejaVu Sans', 'Liberation Sans', sans-serif" font-weight="400" font-size="100" fill="#000" xml:space="preserve">8</text>
<text transform="translate(270.52,914.92) scale(0.2851,0.2653)" font-family="'DejaVu Sans', 'Liberation Sans', sans-serif" font-weight="400" font-size="100" fill="#000" xml:space="preserve">7</text>
<text transform="translate(340.99,914.40) scale(0.2580,0.2547)" font-family="'DejaVu Sans', 'Liberation Sans', sans-serif" font-weight="400" font-size="100" fill="#000" xml:space="preserve">6</text>
<text transform="translate(409.86,914.39) scale(0.2426,0.2581)" font-family="'DejaVu Sans', 'Liberation Sans', sans-serif" font-weight="400" font-size="100" fill="#000" xml:space="preserve">5</text>
<text transform="translate(473.58,914.65) scale(0.2434,0.2653)" font-family="'DejaVu Sans', 'Liberation Sans', sans-serif" font-weight="400" font-size="100" fill="#000" xml:space="preserve">4</text>
<text transform="translate(540.48,914.40) scale(0.2271,0.2547)" font-family="'DejaVu Sans', 'Liberation Sans', sans-serif" font-weight="400" font-size="100" fill="#000" xml:space="preserve">3</text>
<text transform="translate(613.68,914.65) scale(0.2319,0.2581)" font-family="'DejaVu Sans', 'Liberation Sans', sans-serif" font-weight="400" font-size="100" fill="#000" xml:space="preserve">2</text>
<text transform="translate(676.40,914.65) scale(0.2186,0.2616)" font-family="'DejaVu Sans', 'Liberation Sans', sans-serif" font-weight="400" font-size="100" fill="#000" xml:space="preserve">1</text>
<text transform="translate(736.20,914.40) scale(0.2282,0.2513)" font-family="'DejaVu Sans', 'Liberation Sans', sans-serif" font-weight="400" font-size="100" fill="#000" xml:space="preserve">0 m</text>
<text transform="translate(644.39,95.30) scale(0.2606,0.2918)" font-family="'DejaVu Sans', 'Liberation Sans', sans-serif" font-weight="400" font-size="100" fill="#000" xml:space="preserve">E</text>
<text transform="translate(675.12,179.20) scale(0.3082,0.3014)" font-family="'DejaVu Sans', 'Liberation Sans', sans-serif" font-weight="400" font-size="100" fill="#000" xml:space="preserve">D</text>
<text transform="translate(704.28,252.61) scale(0.2862,0.2895)" font-family="'DejaVu Sans', 'Liberation Sans', sans-serif" font-weight="400" font-size="100" fill="#000" xml:space="preserve">C</text>
<text transform="translate(730.21,325.50) scale(0.2794,0.2945)" font-family="'DejaVu Sans', 'Liberation Sans', sans-serif" font-weight="400" font-size="100" fill="#000" xml:space="preserve">B</text>
<text transform="translate(761.72,402.31) scale(0.2803,0.3056)" font-family="'DejaVu Sans', 'Liberation Sans', sans-serif" font-weight="400" font-size="100" fill="#000" xml:space="preserve">A</text>
<text transform="translate(760.42,103.30) scale(0.2594,0.2934)" font-family="'DejaVu Sans', 'Liberation Sans', sans-serif" font-weight="700" font-size="100" fill="#000" stroke="#000" stroke-width="2.2" stroke-linejoin="round" xml:space="preserve">2500kg</text>
<text transform="translate(763.43,183.30) scale(0.2597,0.2934)" font-family="'DejaVu Sans', 'Liberation Sans', sans-serif" font-weight="700" font-size="100" fill="#000" stroke="#000" stroke-width="2.2" stroke-linejoin="round" xml:space="preserve">3000kg</text>
<text transform="translate(310.70,711.22) rotate(-90) scale(0.2601,0.3095)" font-family="'DejaVu Sans', 'Liberation Sans', sans-serif" font-weight="700" font-size="100" fill="#000" stroke="#000" stroke-width="2.2" stroke-linejoin="round" xml:space="preserve">350 kg</text>
<text transform="translate(369.00,666.54) rotate(-90) scale(0.2561,0.2973)" font-family="'DejaVu Sans', 'Liberation Sans', sans-serif" font-weight="700" font-size="100" fill="#000" stroke="#000" stroke-width="2.2" stroke-linejoin="round" xml:space="preserve">600 kg</text>
<text transform="translate(428.60,609.54) rotate(-90) scale(0.2561,0.2919)" font-family="'DejaVu Sans', 'Liberation Sans', sans-serif" font-weight="700" font-size="100" fill="#000" stroke="#000" stroke-width="2.2" stroke-linejoin="round" xml:space="preserve">800 kg</text>
<text transform="translate(482.40,598.80) rotate(-90) scale(0.2546,0.2892)" font-family="'DejaVu Sans', 'Liberation Sans', sans-serif" font-weight="700" font-size="100" fill="#000" stroke="#000" stroke-width="2.2" stroke-linejoin="round" xml:space="preserve">1200 kg</text>
<text transform="translate(528.40,549.80) rotate(-90) scale(0.2546,0.2892)" font-family="'DejaVu Sans', 'Liberation Sans', sans-serif" font-weight="700" font-size="100" fill="#000" stroke="#000" stroke-width="2.2" stroke-linejoin="round" xml:space="preserve">1500 kg</text>
<text transform="translate(572.50,524.86) rotate(-90) scale(0.2579,0.3014)" font-family="'DejaVu Sans', 'Liberation Sans', sans-serif" font-weight="700" font-size="100" fill="#000" stroke="#000" stroke-width="2.2" stroke-linejoin="round" xml:space="preserve">2000 kg</text>
<text transform="translate(690.40,501.80) rotate(-90) scale(0.2569,0.3027)" font-family="'DejaVu Sans', 'Liberation Sans', sans-serif" font-weight="700" font-size="100" fill="#000" stroke="#000" stroke-width="2.2" stroke-linejoin="round" xml:space="preserve">3500 kg</text>
<text transform="translate(234.77,981.47) rotate(-45) scale(0.880,1)" font-family="'DejaVu Sans', 'Liberation Sans', sans-serif" font-size="25.89" fill="#000">7.30</text>
<text transform="translate(303.55,985.14) rotate(-45) scale(0.880,1)" font-family="'DejaVu Sans', 'Liberation Sans', sans-serif" font-size="26.85" fill="#000">6.20</text>
<text transform="translate(349.99,983.34) rotate(-45) scale(0.880,1)" font-family="'DejaVu Sans', 'Liberation Sans', sans-serif" font-size="25.51" fill="#000">5.50</text>
<text transform="translate(422.02,984.57) rotate(-45) scale(0.880,1)" font-family="'DejaVu Sans', 'Liberation Sans', sans-serif" font-size="27.53" fill="#000">4.40</text>
<text transform="translate(463.99,982.71) rotate(-45) scale(0.880,1)" font-family="'DejaVu Sans', 'Liberation Sans', sans-serif" font-size="25.59" fill="#000">3.80</text>
<text transform="translate(513.79,981.01) rotate(-45) scale(0.880,1)" font-family="'DejaVu Sans', 'Liberation Sans', sans-serif" font-size="25.59" fill="#000">3.00</text>
<text transform="translate(548.32,982.52) rotate(-45) scale(0.880,1)" font-family="'DejaVu Sans', 'Liberation Sans', sans-serif" font-size="25.51" fill="#000">2.50</text>
<text transform="translate(581.67,979.67) rotate(-45) scale(0.880,1)" font-family="'DejaVu Sans', 'Liberation Sans', sans-serif" font-size="25.51" fill="#000">2.10</text>
<text transform="translate(614.45,981.10) rotate(-45) scale(0.880,1)" font-family="'DejaVu Sans', 'Liberation Sans', sans-serif" font-size="25.89" fill="#000">1.80</text>
<ellipse cx="609" cy="147.5" rx="13" ry="11.5" fill="#000"/>
<ellipse cx="645.6" cy="200.5" rx="13" ry="12" fill="#000"/>
<path d="M609,147.5 L750,115.3 H872.3" stroke="#000" stroke-width="3" fill="none" stroke-linejoin="round" stroke-linecap="round"/>
<path d="M645.6,200.5 L752,195.3 H864.5" stroke="#000" stroke-width="3" fill="none" stroke-linejoin="round" stroke-linecap="round"/>
<g transform="translate(685.8,101.7) scale(1.000,1.000)"><path d="M-90.4,-5.9 L-5.6,-5.9 L-5.6,-66.6 L-1.2,-66.6 L0,-63 L0,-3.2 L-3,0 L-42,0 L-90.4,-4.7 Z" fill="#0a0a0a"/><path d="M0.5,-57 H2.4 V-12.5 L3.9,-13 L-1,-1 L0,-10 Z" fill="#1a1a1a"/><path d="M1.2,-61 C3.5,-66 6,-71.2 9.9,-70.9 C14.2,-70.4 14.9,-66.5 14.2,-63.5 L4.6,-22 L3.6,-12.5" fill="none" stroke="#000" stroke-width="1.45"/><circle cx="9.7" cy="-64.3" r="2.1" fill="none" stroke="#000" stroke-width="1.3"/><path d="M2.4,-55.4 H7.6" stroke="#111" stroke-width="1.8" fill="none"/><circle cx="3.4" cy="-30" r="1.2" fill="none" stroke="#111" stroke-width="0.9"/></g>
<g transform="translate(817.8,463.5) scale(0.940,0.910)"><path d="M-90.4,-5.9 L-5.6,-5.9 L-5.6,-66.6 L-1.2,-66.6 L0,-63 L0,-3.2 L-3,0 L-42,0 L-90.4,-4.7 Z" fill="#0a0a0a"/><path d="M0.5,-57 H2.4 V-12.5 L3.9,-13 L-1,-1 L0,-10 Z" fill="#1a1a1a"/><path d="M1.2,-61 C3.5,-66 6,-71.2 9.9,-70.9 C14.2,-70.4 14.9,-66.5 14.2,-63.5 L4.6,-22 L3.6,-12.5" fill="none" stroke="#000" stroke-width="1.45"/><circle cx="9.7" cy="-64.3" r="2.1" fill="none" stroke="#000" stroke-width="1.3"/><path d="M2.4,-55.4 H7.6" stroke="#111" stroke-width="1.8" fill="none"/><circle cx="3.4" cy="-30" r="1.2" fill="none" stroke="#111" stroke-width="0.9"/></g>
<g transform="translate(310.4,850.4) scale(0.948,0.900)"><path d="M-90.4,-5.9 L-5.6,-5.9 L-5.6,-66.6 L-1.2,-66.6 L0,-63 L0,-3.2 L-3,0 L-42,0 L-90.4,-4.7 Z" fill="#0a0a0a"/><path d="M0.5,-57 H2.4 V-12.5 L3.9,-13 L-1,-1 L0,-10 Z" fill="#1a1a1a"/><path d="M1.2,-61 C3.5,-66 6,-71.2 9.9,-70.9 C14.2,-70.4 14.9,-66.5 14.2,-63.5 L4.6,-22 L3.6,-12.5" fill="none" stroke="#000" stroke-width="1.45"/><circle cx="9.7" cy="-64.3" r="2.1" fill="none" stroke="#000" stroke-width="1.3"/><path d="M2.4,-55.4 H7.6" stroke="#111" stroke-width="1.8" fill="none"/><circle cx="3.4" cy="-30" r="1.2" fill="none" stroke="#111" stroke-width="0.9"/></g>
<g transform="translate(681.2,819.5) scale(0.937,0.955)"><path d="M-90.4,-5.9 L-5.6,-5.9 L-5.6,-66.6 L-1.2,-66.6 L0,-63 L0,-3.2 L-3,0 L-42,0 L-90.4,-4.7 Z" fill="#0a0a0a"/><path d="M0.5,-57 H2.4 V-12.5 L3.9,-13 L-1,-1 L0,-10 Z" fill="#1a1a1a"/><path d="M1.2,-61 C3.5,-66 6,-71.2 9.9,-70.9 C14.2,-70.4 14.9,-66.5 14.2,-63.5 L4.6,-22 L3.6,-12.5" fill="none" stroke="#000" stroke-width="1.45"/><circle cx="9.7" cy="-64.3" r="2.1" fill="none" stroke="#000" stroke-width="1.3"/><path d="M2.4,-55.4 H7.6" stroke="#111" stroke-width="1.8" fill="none"/><circle cx="3.4" cy="-30" r="1.2" fill="none" stroke="#111" stroke-width="0.9"/></g>
<g fill="none" stroke="#111" stroke-width="1.1"><path d="M741,815.3 H802.4 V724.9"/><ellipse cx="763.4" cy="792.2" rx="21.7" ry="23.1"/><ellipse cx="763.4" cy="792.4" rx="13.6" ry="14.3"/><ellipse cx="763.1" cy="792.3" rx="3.8" ry="4.1"/><path d="M802.4,728 C794,728 789.5,731.5 787,737 C783.5,744.5 779.5,755 778.8,761.2 C778.5,767 783,777.5 787,783.2 C790.5,788 796,791.8 802.4,792.6"/><path d="M802.4,737 C798.5,737 795.5,738.5 793.6,741.4 C790.5,746.5 787.3,754.5 787,759 C786.8,762.5 787.8,766.5 789.2,770 C791,774.5 793.3,778.5 795.8,781 C797.8,782.8 800,783.6 802.4,783.8"/></g>
<path d="M722.7,770.3 H730.9 V778.3 L752.4,799.7 L749.6,801.9 L745.2,803 L730.9,789.8 V793.7 H722.7 Z" fill="#0a0a0a"/>
</svg>
</body></html>
